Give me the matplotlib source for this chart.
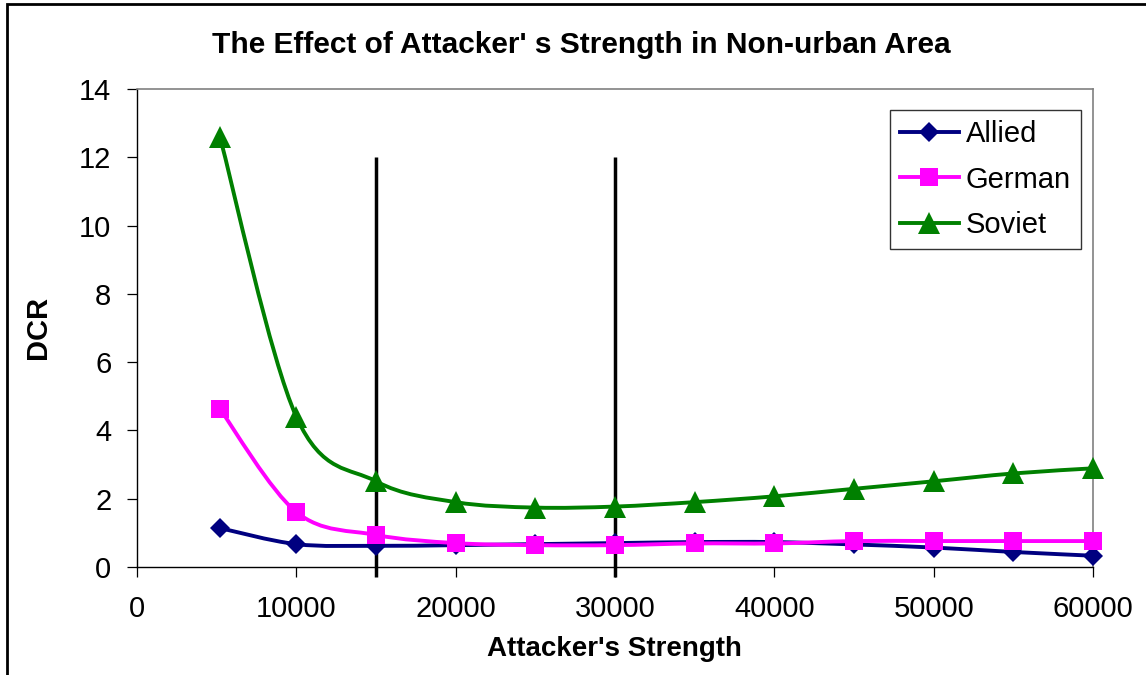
import matplotlib
matplotlib.use("Agg")
import matplotlib.pyplot as plt
from matplotlib.path import Path
from matplotlib.patches import PathPatch, Rectangle
from matplotlib.lines import Line2D

# ---- data ----
strength = [5200, 10000, 15000, 20000, 25000, 30000, 35000, 40000, 45000, 50000, 55000, 60000]
allied = [1.14, 0.67, 0.62, 0.64, 0.67, 0.70, 0.73, 0.73, 0.66, 0.57, 0.44, 0.33]
german = [4.63, 1.61, 0.94, 0.70, 0.64, 0.64, 0.69, 0.69, 0.76, 0.76, 0.76, 0.76]
soviet = [12.6, 4.40, 2.51, 1.90, 1.74, 1.77, 1.90, 2.07, 2.29, 2.51, 2.74, 2.89]
series_names = ["Allied", "German", "Soviet"]
marker_lines_x = [15000, 30000]
marker_line_top = 12

title = "The Effect of Attacker' s Strength in Non-urban Area"
xlabel = "Attacker's Strength"
ylabel = "DCR"
xticks = [0, 10000, 20000, 30000, 40000, 50000, 60000]
yticks = [0, 2, 4, 6, 8, 10, 12, 14]

colors = ["#000080", "#FF00FF", "#008000"]
markers = ["D", "s", "^"]
msizes = [10.5, 13.5, 15.5]
LW = 2.8

FONT = "Liberation Sans"
plt.rcParams["font.family"] = [FONT, "DejaVu Sans"]

W, H = 1146, 675
fig = plt.figure(figsize=(W / 100, H / 100), dpi=100)
fig.patch.set_facecolor("white")

L, R, T, B = 137, 1093, 89, 567
ax = fig.add_axes([L / W, 1 - B / H, (R - L) / W, (B - T) / H])
ax.set_xlim(0, 60000)
ax.set_ylim(0, 14)
ax.set_xticks(xticks)
ax.set_yticks(yticks)
ax.set_xticklabels([str(v) for v in xticks])
ax.set_yticklabels([str(v) for v in yticks])
ax.tick_params(axis="both", direction="out", length=7.5, width=0.9, color="black",
               labelsize=21, labelcolor="black")
ax.tick_params(axis="x", pad=13)
ax.tick_params(axis="y", pad=11)
for side in ["left", "bottom"]:
    ax.spines[side].set_color("black")
    ax.spines[side].set_linewidth(1.0)
for side in ["top", "right"]:
    ax.spines[side].set_color("#808080")
    ax.spines[side].set_linewidth(1.2)

# vertical reference lines
for xv in marker_lines_x:
    ax.plot([xv, xv], [-0.3, marker_line_top], color="black", lw=2.5,
            solid_capstyle="butt", clip_on=False, zorder=2)


def smooth_path(xs, ys):
    pts = list(zip(xs, ys))
    n = len(pts)
    verts = [pts[0]]
    codes = [Path.MOVETO]
    for i in range(n - 1):
        p0 = pts[i - 1] if i > 0 else pts[i]
        p1 = pts[i]
        p2 = pts[i + 1]
        p3 = pts[i + 2] if i + 2 < n else pts[i + 1]
        c1 = (p1[0] + (p2[0] - p0[0]) / 6.0, p1[1] + (p2[1] - p0[1]) / 6.0)
        c2 = (p2[0] - (p3[0] - p1[0]) / 6.0, p2[1] - (p3[1] - p1[1]) / 6.0)
        verts += [c1, c2, p2]
        codes += [Path.CURVE4, Path.CURVE4, Path.CURVE4]
    return Path(verts, codes)


handles = []
for k, (vals, name) in enumerate(zip([allied, german, soviet], series_names)):
    patch = PathPatch(smooth_path(strength, vals), facecolor="none",
                      edgecolor=colors[k], lw=LW, zorder=3 + k,
                      capstyle="round", joinstyle="round")
    ax.add_patch(patch)
    ax.plot(strength, vals, linestyle="none", marker=markers[k],
            markersize=msizes[k], color=colors[k], markeredgewidth=0,
            zorder=3.5 + k, clip_on=False)
    handles.append(Line2D([0], [0], color=colors[k], lw=LW, marker=markers[k],
                          markersize=msizes[k], markeredgewidth=0, label=name))

leg = ax.legend(handles=handles, loc="upper left",
                bbox_to_anchor=((890 - L) / (R - L), 1 - (110 - T) / (B - T)),
                frameon=True, fancybox=False, edgecolor="black", fontsize=21,
                handlelength=2.0, handletextpad=0.25, labelspacing=0.6,
                borderpad=0.35, borderaxespad=0)
leg.get_frame().set_linewidth(1.0)

fig.text(581 / W, 1 - 45 / H, title, ha="center", va="center",
         fontsize=21.5, fontweight="bold")
fig.text(614 / W, 1 - 649 / H, xlabel, ha="center", va="center",
         fontsize=20, fontweight="bold")
fig.text(38 / W, 1 - 327 / H, ylabel, ha="center", va="center",
         fontsize=21, fontweight="bold", rotation=90)

# outer chart border (left & top visible)
fig.add_artist(Rectangle((7 / W, -0.2), 1.5, 1.2 - 4 / H, transform=fig.transFigure,
                         fill=False, edgecolor="black", lw=2.0))

fig.savefig("out.png", dpi=100, facecolor="white")
